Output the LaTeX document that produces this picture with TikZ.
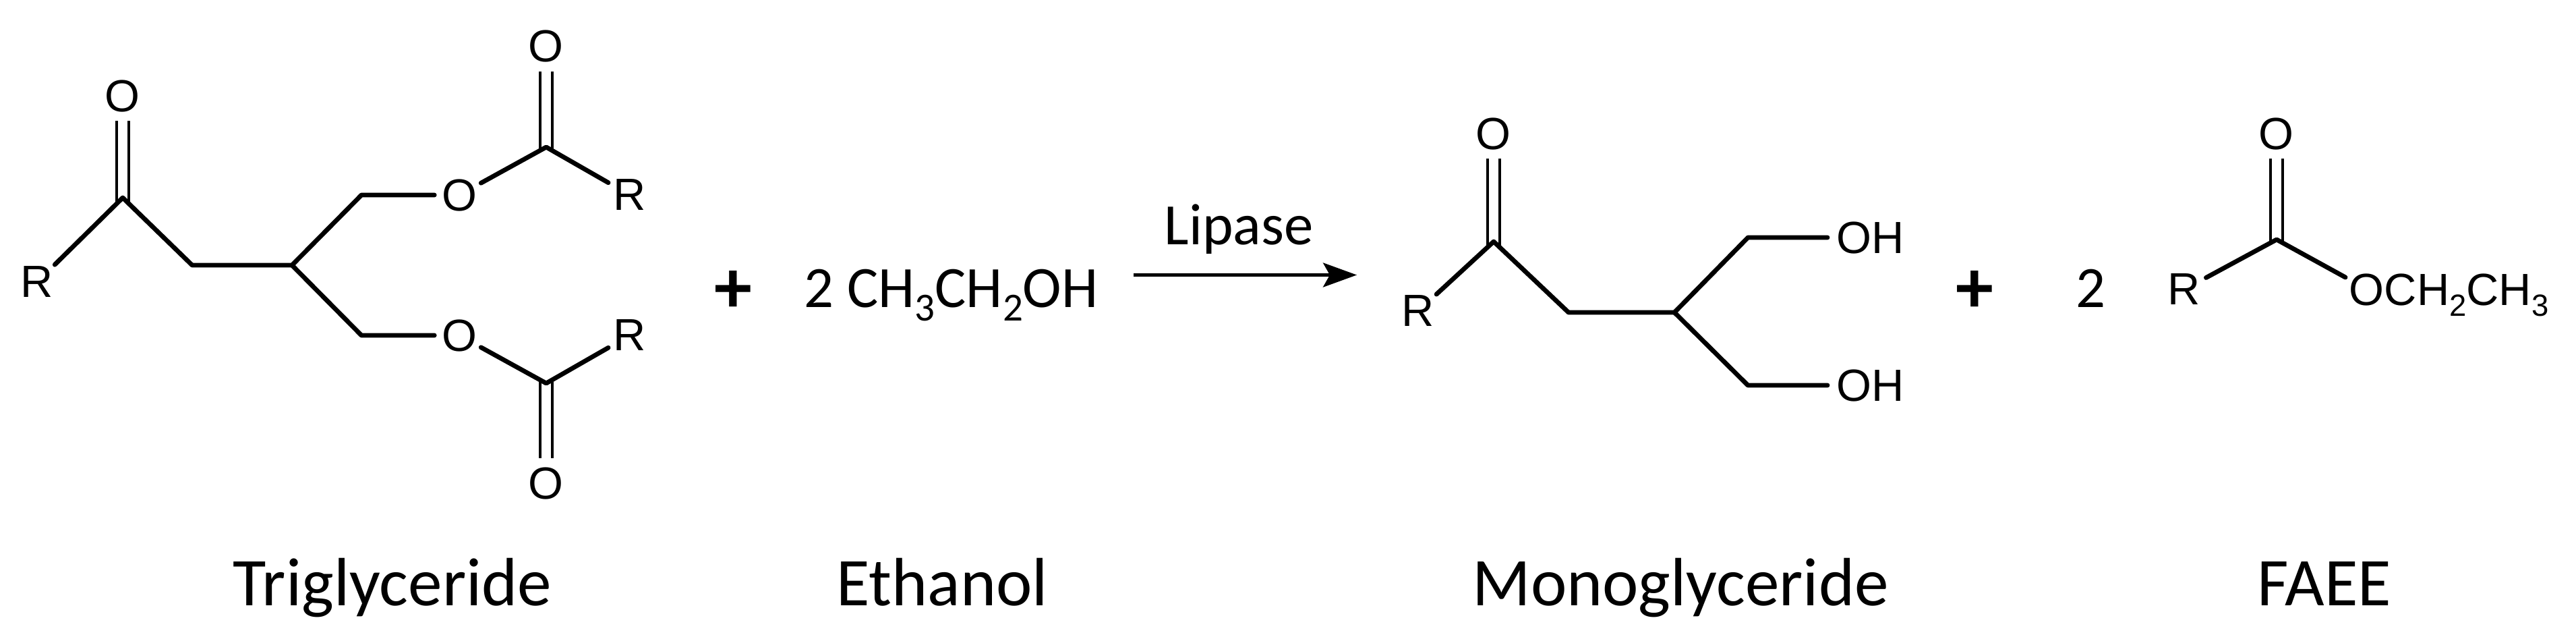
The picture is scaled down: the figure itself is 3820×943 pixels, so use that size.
\documentclass[tikz,border=0pt]{standalone}
\usepackage{fontspec}
\setmainfont{Liberation Sans}
\newfontfamily\lab{Carlito}
\usetikzlibrary{arrows.meta}
\newcommand{\atomfs}{\fontsize{16.7pt}{18pt}\selectfont}
\newcommand{\formfs}{\lab\fontsize{21.7pt}{24pt}\selectfont}
\newcommand{\namefs}{\lab\fontsize{25.3pt}{28pt}\selectfont}
\newcommand{\sbs}[1]{\raisebox{-0.24em}{\scalebox{0.68}{#1}}}
\tikzset{
  bond/.style={line width=1.7pt,line join=round,line cap=round},
  dbl/.style={line width=1.2pt},
  atom/.style={circle,inner sep=0pt,minimum size=18pt,font=\atomfs},
  oh/.style={anchor=west,inner sep=3.25pt,font=\atomfs},
  form/.style={anchor=base west,inner sep=0pt,font=\formfs},
  cname/.style={anchor=base,inner sep=0pt,font=\namefs},
  plus/.style={inner sep=0pt,font=\lab\bfseries\fontsize{28pt}{30pt}\selectfont},
  rarrow/.style={line width=1.1pt,-{Stealth[length=12.5pt,width=9pt,inset=2.5pt]}}
}
\begin{document}
\begin{tikzpicture}[x=0.25pt,y=-0.25pt]
\useasboundingbox (0,0) rectangle (3820,943);
% Triglyceride
\coordinate (c1) at (182,293);
\coordinate (a1) at (285,393);
\coordinate (b0) at (433,393);
\coordinate (a2) at (536,289);
\coordinate (a3) at (536,497);
\coordinate (c2) at (810,218);
\coordinate (c3) at (810,568);
\node[atom] (r1) at (55,418) {R};
\node[atom] (o1) at (181,142.5) {O};
\node[atom] (o2) at (681,289) {O};
\node[atom] (o3) at (681,497) {O};
\node[atom] (o4) at (809,69) {O};
\node[atom] (o5) at (809,716) {O};
\node[atom] (r2) at (934,289) {R};
\node[atom] (r3) at (934,497) {R};
\draw[bond] (r1) -- (c1) -- (a1) -- (b0) -- (a2) -- (o2);
\draw[bond] (b0) -- (a3) -- (o3);
\draw[bond] (o2) -- (c2) -- (r2);
\draw[bond] (o3) -- (c3) -- (r3);
\draw[dbl] ([xshift=-2.25pt,yshift=-1.5pt]c1) -- ([xshift=-2.25pt]o1.south -| c1);
\draw[dbl] ([xshift=2.25pt,yshift=-1.5pt]c1) -- ([xshift=2.25pt]o1.south -| c1);
\draw[dbl] ([xshift=-2.25pt,yshift=-1.5pt]c2) -- ([xshift=-2.25pt]o4.south -| c2);
\draw[dbl] ([xshift=2.25pt,yshift=-1.5pt]c2) -- ([xshift=2.25pt]o4.south -| c2);
\draw[dbl] ([xshift=-2.25pt,yshift=1.5pt]c3) -- ([xshift=-2.25pt]o5.north -| c3);
\draw[dbl] ([xshift=2.25pt,yshift=1.5pt]c3) -- ([xshift=2.25pt]o5.north -| c3);
% Middle
\node[plus] (p1) at (1087,432) {+};
\node[form] (etoh) at (1192,455) {2 CH\sbs{3}CH\sbs{2}OH};
\coordinate (arrs) at (1681,407.5);
\coordinate (arre) at (2012,407.5);
\draw[rarrow] (arrs) -- (arre);
\node[form] (lip) at (1726,362) {Lipase};
% Monoglyceride
\coordinate (c4) at (2215,358);
\coordinate (a4) at (2326,463);
\coordinate (b1) at (2483,463);
\coordinate (a5) at (2592,352);
\coordinate (a6) at (2592,571);
\node[atom] (r4) at (2103,461) {R};
\node[atom] (o6) at (2214,198) {O};
\node[oh] (oh1) at (2710,352) {OH};
\node[oh] (oh2) at (2710,571) {OH};
\draw[bond] (r4) -- (c4) -- (a4) -- (b1) -- (a5) -- (oh1.west);
\draw[bond] (b1) -- (a6) -- (oh2.west);
\draw[dbl] ([xshift=-2.25pt,yshift=-1.5pt]c4) -- ([xshift=-2.25pt]o6.south -| c4);
\draw[dbl] ([xshift=2.25pt,yshift=-1.5pt]c4) -- ([xshift=2.25pt]o6.south -| c4);
\node[plus] (p2) at (2928,432) {+};
\node[form] (two) at (3078,455) {2};
% FAEE
\coordinate (c5) at (3376,355);
\coordinate (esto) at (3478,411);
\node[atom] (r5) at (3239,429) {R};
\node[atom] (o7) at (3375,198) {O};
\node[anchor=base west,inner sep=0pt,font=\atomfs] (ester) at (3483,452) {OCH\sbs{2}CH\sbs{3}};
\draw[bond] (r5) -- (c5) -- (esto);
\draw[dbl] ([xshift=-2.25pt,yshift=-1.5pt]c5) -- ([xshift=-2.25pt]o7.south -| c5);
\draw[dbl] ([xshift=2.25pt,yshift=-1.5pt]c5) -- ([xshift=2.25pt]o7.south -| c5);
% Names
\node[cname] (n1) at (582,897) {Triglyceride};
\node[cname] (n2) at (1397,897) {Ethanol};
\node[cname] (n3) at (2492,897) {Monoglyceride};
\node[cname] (n4) at (3447,897) {FAEE};
\end{tikzpicture}
\end{document}
